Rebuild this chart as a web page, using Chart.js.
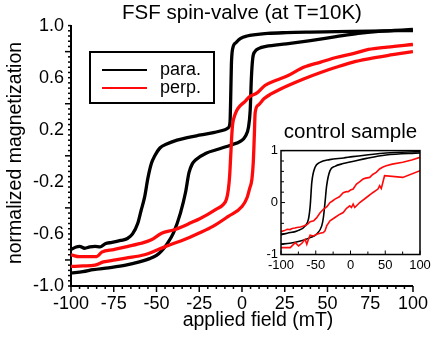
<!DOCTYPE html>
<html>
<head>
<meta charset="utf-8">
<script src="https://cdn.jsdelivr.net/npm/chart.js@4.4.0/dist/chart.umd.min.js"></script>
<style>
  body { margin: 0; background: #fff; }
  #wrap { position: relative; width: 435px; height: 346px; }
  #main { position: absolute; left: 0; top: 0; }
  #inset { position: absolute; left: 265px; top: 118px; }
</style>
</head>
<body>
<div id="wrap">
  <canvas id="main" width="435" height="346"></canvas>
  <canvas id="inset" width="170" height="157"></canvas>
</div>
<script>
const campoParaBaja = [-100,-97,-95,-92,-89,-86,-83,-80,-76,-71,-67,-64,-61,-59,-57,-55,-53,-51,-48,-44,-38,-32,-24,-16,-10,-8,-7,-6.6,-6.2,-5.5,-3.5,-1,3,8,15,26,40,55,75,100];
const magParaBaja = [-0.72,-0.70,-0.695,-0.71,-0.70,-0.695,-0.70,-0.675,-0.665,-0.65,-0.635,-0.60,-0.52,-0.42,-0.32,-0.17,-0.06,0.0,0.06,0.09,0.12,0.14,0.16,0.18,0.2,0.215,0.26,0.45,0.7,0.82,0.87,0.90,0.92,0.93,0.94,0.946,0.95,0.953,0.958,0.962];

const campoParaSube = [-100,-93,-87,-78,-68,-60,-54,-50,-47,-44,-40,-36,-33,-31,-29,-27,-21,-14,-6,-1,2,3.8,4.8,5.5,6.3,7.5,10,14,26,40,55,68,80,100];
const magParaSube = [-0.90,-0.89,-0.875,-0.86,-0.84,-0.815,-0.79,-0.765,-0.73,-0.68,-0.59,-0.44,-0.28,-0.13,-0.06,-0.03,0.02,0.05,0.085,0.11,0.15,0.22,0.35,0.6,0.75,0.80,0.825,0.84,0.86,0.885,0.915,0.94,0.955,0.97];

const campoPerpBaja = [-100,-95,-90,-85,-82,-75,-68,-60,-53,-47,-40,-35,-30,-25,-20,-15,-11,-9,-8,-7.2,-6.6,-6,-5.5,-4.5,-3,-1,2,4,9,13.4,20,27,36,46,55,65,74,85,100];
const magPerpBaja = [-0.76,-0.775,-0.775,-0.775,-0.74,-0.72,-0.70,-0.675,-0.645,-0.595,-0.57,-0.545,-0.515,-0.485,-0.45,-0.41,-0.375,-0.33,-0.26,-0.15,0.0,0.15,0.24,0.30,0.35,0.385,0.42,0.45,0.485,0.54,0.58,0.616,0.68,0.72,0.755,0.785,0.817,0.835,0.855];

const campoPerpSube = [-100,-93,-86,-81,-74,-68,-57,-49,-42,-34,-25,-17,-8,0,3,4.5,5.8,6.6,7.2,7.7,9.6,13,17,22,27,36,46,55,65,74,85,100];
const magPerpSube = [-0.85,-0.846,-0.84,-0.815,-0.80,-0.786,-0.76,-0.72,-0.683,-0.645,-0.593,-0.542,-0.465,-0.39,-0.32,-0.25,-0.18,-0.05,0.15,0.33,0.39,0.44,0.475,0.51,0.54,0.59,0.64,0.68,0.72,0.745,0.77,0.80];

// Datos del recuadro "control sample"
const campoCtrlParaBaja = [-100,-97,-91,-77,-65,-60.5,-58,-55.7,-51,-44,-30,-10,3,23,51,100];
const magCtrlParaBaja = [-0.62,-0.61,-0.59,-0.546,-0.449,-0.32,-0.063,0.388,0.678,0.774,0.826,0.859,0.884,0.916,0.955,0.98];

const campoCtrlParaSube = [-100,-87,-72,-58,-49,-41.4,-39,-36.7,-34.3,-29.5,-22.4,-10.5,-5.7,3,23,51,100];
const magCtrlParaSube = [-0.80,-0.784,-0.74,-0.675,-0.61,-0.449,-0.288,0.0,0.324,0.614,0.697,0.75,0.765,0.79,0.85,0.916,0.955];

const campoCtrlPerpBaja = [-100,-95,-91,-87,-84,-80,-77,-72,-67.6,-62,-58,-53,-48.6,-44,-39,-34,-29.5,-26,-22.4,-16,-10.5,-6,-3.3,0,3.8,8.6,13,18,22,27.6,32,37,41.9,46,51.4,60,75.2,88,100];
const magCtrlPerpBaja = [-0.56,-0.54,-0.515,-0.52,-0.50,-0.49,-0.48,-0.47,-0.45,-0.42,-0.37,-0.35,-0.29,-0.2,-0.13,-0.08,0.0,0.03,0.066,0.11,0.19,0.21,0.208,0.24,0.26,0.356,0.40,0.452,0.47,0.484,0.54,0.581,0.646,0.68,0.71,0.74,0.774,0.82,0.871];

const campoCtrlPerpSube = [-100,-98.6,-86.7,-79.5,-74.7,-70,-65.3,-62.9,-60.5,-58.1,-53.3,-48.6,-43.8,-39,-36.7,-34.3,-29.5,-22.4,-15.2,-10.5,-5.7,-1,1.4,3.8,6.2,13.3,22.9,32.4,39.5,41.9,44.3,49,75.2,100];
const magCtrlPerpSube = [-0.87,-0.868,-0.868,-0.772,-0.836,-0.784,-0.707,-0.803,-0.707,-0.63,-0.643,-0.61,-0.591,-0.578,-0.546,-0.449,-0.353,-0.288,-0.224,-0.192,-0.11,-0.063,-0.095,-0.03,-0.095,0.0,0.097,0.194,0.26,0.324,0.272,0.517,0.484,0.614];

// Etiquetas
const titulo = 'FSF spin-valve (at T=10K)';
const tituloX = 'applied field (mT)';
const tituloY = 'normalized magnetization';
const tituloCtrl = 'control sample';
const nombresSeries = ['para.', 'perp.'];

const FUENTE = '"Liberation Sans", Arial, sans-serif';
const NEGRO = '#000000';
const ROJO = '#ff0a0a';

Chart.defaults.font.family = FUENTE;
Chart.defaults.color = NEGRO;

// Convierte dos listas en puntos {x, y}
const puntos = (xs, ys) => xs.map((x, i) => ({ x: x, y: ys[i] }));

// Marcas de escala mayores y menores dibujadas con las escalas de Chart.js
const marcasEscala = {
  id: 'marcasEscala',
  afterDraw(chart, args, o) {
    const ctx = chart.ctx;
    const a = chart.chartArea;
    const sx = chart.scales.x, sy = chart.scales.y;
    const dir = o.inside ? -1 : 1;
    ctx.save();
    ctx.strokeStyle = NEGRO;
    ctx.lineWidth = o.width;
    let n = Math.round((sx.max - sx.min) / o.xMinor);
    for (let i = 0; i <= n; i++) {
      const v = sx.min + i * o.xMinor;
      const r = v / o.xMajor;
      const len = Math.abs(r - Math.round(r)) < 1e-6 ? o.majorLen : o.minorLen;
      const px = sx.getPixelForValue(v);
      ctx.beginPath();
      ctx.moveTo(px, a.bottom);
      ctx.lineTo(px, a.bottom + dir * len);
      ctx.stroke();
    }
    n = Math.round((sy.max - sy.min) / o.yMinor);
    for (let i = 0; i <= n; i++) {
      const v = sy.min + i * o.yMinor;
      const r = v / o.yMajor;
      const len = Math.abs(r - Math.round(r)) < 1e-6 ? o.majorLen : o.minorLen;
      const py = sy.getPixelForValue(v);
      ctx.beginPath();
      ctx.moveTo(a.left, py);
      ctx.lineTo(a.left - dir * len, py);
      ctx.stroke();
    }
    if (o.box) {
      ctx.lineWidth = o.boxWidth;
      ctx.strokeRect(a.left, a.top, a.right - a.left, a.bottom - a.top);
    }
    ctx.restore();
  }
};

// Leyenda y títulos de ejes del gráfico principal
const extrasPrincipal = {
  id: 'extrasPrincipal',
  afterDraw(chart) {
    const ctx = chart.ctx;
    ctx.save();
    ctx.fillStyle = NEGRO;
    ctx.font = '19.5px ' + FUENTE;
    ctx.textAlign = 'center';
    ctx.textBaseline = 'middle';
    ctx.fillText(tituloX, 258, 321);
    ctx.translate(16, 153);
    ctx.rotate(-Math.PI / 2);
    ctx.fillText(tituloY, 0, 0);
    ctx.restore();

    // leyenda
    ctx.save();
    ctx.fillStyle = '#fff';
    ctx.fillRect(90, 52, 124, 51);
    ctx.strokeStyle = NEGRO;
    ctx.lineWidth = 2;
    ctx.strokeRect(90, 52, 124, 51);
    const colores = [NEGRO, ROJO];
    ctx.font = '18px ' + FUENTE;
    ctx.textBaseline = 'middle';
    ctx.textAlign = 'left';
    nombresSeries.forEach((nombre, i) => {
      const y = 70 + i * 18;
      ctx.strokeStyle = colores[i];
      ctx.lineWidth = 2;
      ctx.beginPath();
      ctx.moveTo(102, y);
      ctx.lineTo(147, y);
      ctx.stroke();
      ctx.fillStyle = NEGRO;
      ctx.fillText(nombre, 160, y);
    });
    ctx.restore();
  }
};

const serie = (xs, ys, color, ancho, orden, suave) => ({
  data: puntos(xs, ys),
  borderColor: color,
  borderWidth: ancho,
  pointRadius: 0,
  fill: false,
  order: orden,
  cubicInterpolationMode: suave ? 'monotone' : 'default',
  tension: 0
});

new Chart(document.getElementById('main'), {
  type: 'line',
  data: {
    datasets: [
      serie(campoParaBaja, magParaBaja, NEGRO, 3.3, 1, true),
      serie(campoParaSube, magParaSube, NEGRO, 3.3, 1, true),
      serie(campoPerpBaja, magPerpBaja, ROJO, 3.3, 0, true),
      serie(campoPerpSube, magPerpSube, ROJO, 3.3, 0, true)
    ]
  },
  options: {
    responsive: false,
    animation: false,
    layout: { padding: { top: 0, right: 13, bottom: 0, left: 0 } },
    plugins: {
      legend: { display: false },
      tooltip: { enabled: false },
      title: {
        display: true,
        text: titulo,
        fullSize: false,
        color: NEGRO,
        font: { size: 20.5, weight: 'normal' },
        padding: { top: 1, bottom: 0 }
      },
      marcasEscala: { inside: false, width: 1.5, xMinor: 5, xMajor: 25, yMinor: 0.04, yMajor: 0.4, majorLen: 6, minorLen: 3, box: false }
    },
    scales: {
      x: {
        type: 'linear',
        min: -100,
        max: 100,
        grid: { display: false, drawTicks: false },
        border: { display: true, color: NEGRO, width: 2 },
        ticks: { stepSize: 25, padding: 7, font: { size: 18 }, color: NEGRO, maxRotation: 0 },
        afterFit: (s) => { s.height = 60; }
      },
      y: {
        min: -1,
        max: 1,
        grid: { display: false, drawTicks: false },
        border: { display: true, color: NEGRO, width: 2 },
        ticks: { stepSize: 0.4, padding: 7, font: { size: 18 }, color: NEGRO, callback: (v) => v.toFixed(1) },
        afterFit: (s) => { s.width = 71; }
      }
    }
  },
  plugins: [marcasEscala, extrasPrincipal]
});

// Recuadro: muestra de control
new Chart(document.getElementById('inset'), {
  type: 'line',
  data: {
    datasets: [
      serie(campoCtrlParaBaja, magCtrlParaBaja, NEGRO, 1.6, 1, true),
      serie(campoCtrlParaSube, magCtrlParaSube, NEGRO, 1.6, 1, true),
      serie(campoCtrlPerpBaja, magCtrlPerpBaja, ROJO, 1.6, 0, false),
      serie(campoCtrlPerpSube, magCtrlPerpSube, ROJO, 1.6, 0, false)
    ]
  },
  options: {
    responsive: false,
    animation: false,
    layout: { padding: { top: 0, right: 15, bottom: 0, left: 0 } },
    plugins: {
      legend: { display: false },
      tooltip: { enabled: false },
      title: {
        display: true,
        text: tituloCtrl,
        fullSize: false,
        color: NEGRO,
        font: { size: 20.5, weight: 'normal' },
        padding: { top: 2, bottom: 6 }
      },
      marcasEscala: { inside: true, width: 1, xMinor: 25, xMajor: 50, yMinor: 0.2, yMajor: 1, majorLen: 4, minorLen: 3, box: true, boxWidth: 1.5 }
    },
    scales: {
      x: {
        type: 'linear',
        min: -100,
        max: 100,
        grid: { display: false, drawTicks: false },
        border: { display: false },
        ticks: { stepSize: 50, padding: 3, font: { size: 13 }, color: NEGRO, maxRotation: 0 },
        afterFit: (s) => { s.height = 20.5; }
      },
      y: {
        min: -1,
        max: 1,
        grid: { display: false, drawTicks: false },
        border: { display: false },
        ticks: { stepSize: 1, padding: 3, font: { size: 13 }, color: NEGRO },
        afterFit: (s) => { s.width = 15; }
      }
    }
  },
  plugins: [marcasEscala]
});
</script>
</body>
</html>
